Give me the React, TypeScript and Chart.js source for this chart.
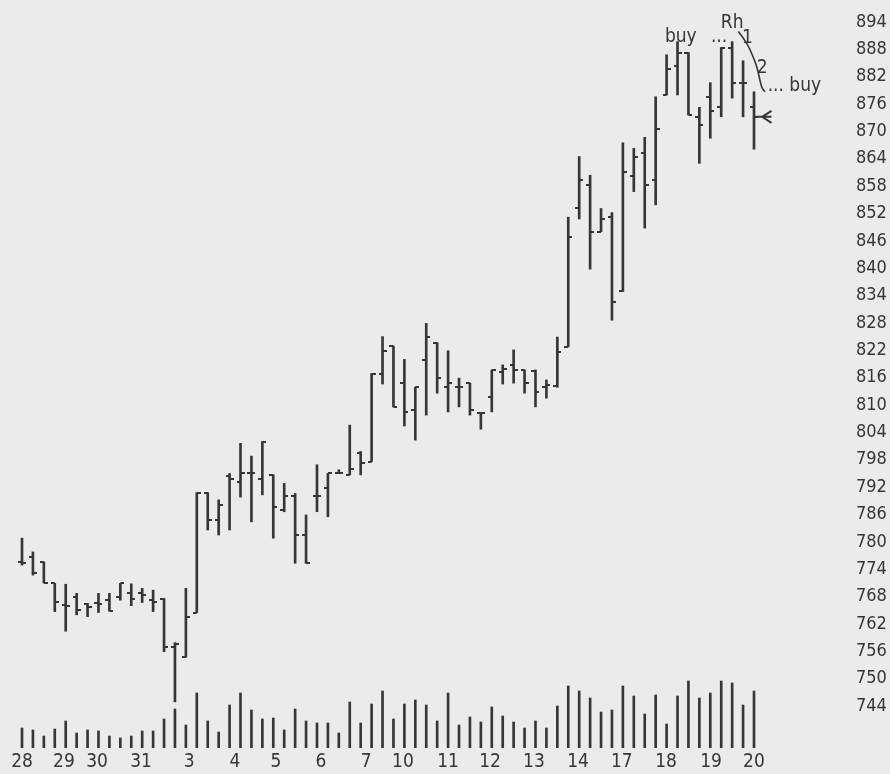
import React, { useEffect, useRef } from 'react';
import { Chart, registerables } from 'chart.js';

Chart.register(...registerables);

// ---- Data ----
const opens = [
  775.5, 776.6, 775.6, 770.9, 766.1, 768.0, 766.3, 766.6, 767.2, 768.0,
  768.8, 768.8, 767.2, 767.4, 757.0, 754.7, 764.5, 790.8, 784.8, 794.5,
  793.2, 795.0, 793.7, 794.7, 787.0, 790.0, 781.5, 790.0, 791.7, 795.0,
  794.7, 799.4, 797.6, 816.8, 822.9, 814.8, 808.9, 819.9, 823.7, 813.9,
  814.0, 814.8, 808.2, 811.7, 817.3, 818.8, 817.7, 817.5, 814.0, 814.2,
  822.8, 853.1, 858.3, 848.0, 851.3, 834.9, 860.2, 865.3, 859.4, 878.0,
  884.4, 887.3, 873.2, 877.5, 875.3, 888.2, 880.7, 875.3,
];
const highs = [
  780.8, 777.8, 775.6, 770.9, 770.7, 768.7, 766.5, 768.7, 768.7, 770.9,
  770.8, 769.8, 769.4, 767.6, 757.9, 769.8, 790.8, 790.8, 789.2, 795.0,
  801.6, 798.8, 802.0, 794.7, 792.8, 790.6, 785.9, 796.9, 795.0, 795.8,
  805.6, 799.8, 816.9, 825.0, 822.9, 820.0, 813.9, 827.9, 823.7, 821.9,
  815.9, 814.8, 808.2, 817.7, 818.8, 822.1, 817.7, 817.7, 815.5, 824.9,
  851.2, 864.5, 860.4, 853.1, 852.2, 867.5, 866.3, 868.7, 877.6, 886.8,
  889.7, 887.3, 875.3, 880.7, 888.4, 889.7, 885.5, 878.7,
];
const lows = [
  774.9, 772.7, 771.0, 764.7, 760.4, 764.0, 763.6, 764.5, 764.8, 767.2,
  766.0, 766.7, 764.7, 755.9, 744.9, 754.7, 764.5, 782.6, 781.5, 782.6,
  789.8, 784.4, 790.3, 780.8, 786.6, 775.3, 775.3, 786.6, 785.5, 795.0,
  794.7, 794.7, 797.6, 814.6, 809.6, 805.4, 802.3, 807.8, 812.6, 808.5,
  809.6, 807.8, 804.7, 808.5, 814.6, 814.8, 812.6, 809.6, 811.5, 813.9,
  822.8, 850.8, 839.8, 848.0, 828.6, 834.9, 856.8, 848.8, 853.9, 878.0,
  878.0, 873.6, 863.0, 868.5, 873.2, 877.3, 873.2, 866.1,
];
const closes = [
  775.3, 773.2, 771.0, 766.8, 765.9, 765.1, 765.8, 766.4, 764.9, 770.9,
  767.5, 768.3, 766.8, 757.0, 757.5, 763.6, 790.8, 784.8, 788.0, 793.8,
  795.0, 795.0, 802.0, 787.7, 790.0, 781.5, 775.3, 790.0, 795.0, 795.0,
  796.0, 797.2, 816.9, 821.9, 809.6, 808.5, 813.9, 824.9, 815.9, 814.8,
  814.0, 808.9, 808.2, 817.7, 817.8, 817.7, 814.8, 812.9, 814.4, 821.7,
  846.9, 859.4, 848.0, 850.9, 832.7, 861.2, 864.5, 858.3, 870.5, 883.6,
  887.3, 873.6, 871.4, 874.5, 888.4, 880.7, 880.7, 873.2,
];
const volumes = [
  20, 18, 12, 19, 27, 15, 18, 17, 12, 10,
  12, 17, 17, 29, 39, 23, 55, 27, 16, 43,
  55, 38, 29, 30, 18, 39, 27, 25, 25, 15,
  46, 25, 44, 57, 29, 44, 48, 43, 27, 55,
  23, 31, 26, 41, 32, 26, 20, 27, 20, 42,
  62, 57, 50, 36, 38, 62, 52, 34, 53, 24,
  52, 67, 50, 55, 67, 65, 43, 57,
];

// day labels and where they sit along the bar index axis
const dayTickPositions = [0, 3.84, 6.87, 10.9, 15.3, 19.5, 23.25, 27.37, 31.5, 34.87, 39, 42.84, 46.86, 50.9, 54.9, 58.95, 63.07, 67];
const dayTickLabels = ['28', '29', '30', '31', '3', '4', '5', '6', '7', '10', '11', '12', '13', '14', '17', '18', '19', '20'];

const priceTicks = [744, 750, 756, 762, 768, 774, 780, 786, 792, 798, 804, 810, 816, 822, 828, 834, 840, 846, 852, 858, 864, 870, 876, 882, 888, 894];

// annotations (bar index, price)
const noteTexts = ['buy', '...', 'Rh', '1', '2', '... buy'];
const noteX = [60.3, 63.8, 65.0, 66.4, 67.75, 70.7];
const noteY = [890.8, 890.6, 893.7, 890.5, 883.9, 880.0];

const curveX = [65.57, 66.2, 66.64, 67.25, 67.7, 68.0];
const curveY = [891.9, 889.8, 887.9, 884.2, 879.8, 878.7];

const arrowBar = 67;

const INK = '#363636';
const BG = '#ebebeb';
const FONT = "'Liberation Sans Narrow', 'DejaVu Sans Condensed', 'DejaVu Sans Mono', monospace";

export default function App() {
  const ref = useRef<HTMLCanvasElement | null>(null);

  useEffect(() => {
    const canvas = ref.current;
    if (!canvas) return;

    const makeTick = (side: 'left' | 'right') => {
      const c = document.createElement('canvas');
      c.width = 8;
      c.height = 2;
      const g = c.getContext('2d')!;
      g.fillStyle = INK;
      if (side === 'left') g.fillRect(0, 0, 4, 2);
      else g.fillRect(4, 0, 4, 2);
      return c;
    };
    const openTick = makeTick('left');
    const closeTick = makeTick('right');

    const bgPlugin = {
      id: 'bg',
      beforeDraw(chart: any) {
        const { ctx, width, height } = chart;
        ctx.save();
        ctx.fillStyle = BG;
        ctx.fillRect(0, 0, width, height);
        ctx.restore();
      },
    };

    const notePlugin = {
      id: 'notes',
      afterDatasetsDraw(chart: any) {
        const { ctx } = chart;
        const xs = chart.scales.x;
        const ys = chart.scales.y;
        ctx.save();
        ctx.fillStyle = INK;
        ctx.strokeStyle = INK;
        ctx.font = `19px ${FONT}`;
        ctx.textAlign = 'center';
        ctx.textBaseline = 'middle';
        noteTexts.forEach((t, i) => {
          ctx.fillText(t, xs.getPixelForValue(noteX[i]), ys.getPixelForValue(noteY[i]));
        });
        // arrow pointing at last close
        const bx = xs.getPixelForValue(arrowBar);
        const by = ys.getPixelForValue(closes[arrowBar]);
        const tip = xs.getPixelForValue(arrowBar + 0.75);
        const back = xs.getPixelForValue(arrowBar + 1.6);
        ctx.lineWidth = 2;
        ctx.beginPath();
        ctx.moveTo(bx, by);
        ctx.lineTo(back, by);
        ctx.moveTo(back, by - 6);
        ctx.lineTo(tip, by);
        ctx.lineTo(back, by + 6);
        ctx.stroke();
        ctx.restore();
      },
    };

    const zeroPad = (s: any) => {
      s.paddingTop = 0;
      s.paddingBottom = 0;
      s.paddingLeft = 0;
      s.paddingRight = 0;
    };

    const chart = new Chart(canvas, {
      type: 'bar',
      data: {
        datasets: [
          {
            type: 'bar',
            label: 'range',
            data: highs.map((h, i) => ({ x: i, y: [lows[i], h] })) as any,
            backgroundColor: INK,
            borderWidth: 0,
            barThickness: 2,
            grouped: false,
            yAxisID: 'y',
          } as any,
          {
            type: 'bar',
            label: 'volume',
            data: volumes.map((v, i) => ({ x: i, y: v })) as any,
            backgroundColor: INK,
            borderWidth: 0,
            barThickness: 2,
            grouped: false,
            yAxisID: 'vol',
          } as any,
          {
            type: 'line',
            label: 'open',
            data: opens.map((o, i) => ({ x: i, y: o })),
            showLine: false,
            pointStyle: openTick,
            pointRadius: 3,
            yAxisID: 'y',
          } as any,
          {
            type: 'line',
            label: 'close',
            data: closes.map((c, i) => ({ x: i, y: c })),
            showLine: false,
            pointStyle: closeTick,
            pointRadius: 3,
            yAxisID: 'y',
          } as any,
          {
            type: 'line',
            label: 'curve',
            data: curveX.map((x, i) => ({ x, y: curveY[i] })),
            borderColor: INK,
            borderWidth: 1.6,
            pointRadius: 0,
            tension: 0.4,
            fill: false,
            yAxisID: 'y',
          } as any,
        ],
      },
      options: {
        animation: false,
        responsive: false,
        maintainAspectRatio: false,
        layout: { padding: 0, autoPadding: false },
        plugins: {
          legend: { display: false },
          tooltip: { enabled: false },
        },
        scales: {
          x: {
            type: 'linear',
            offset: false,
            min: -2.014,
            max: 75.33,
            grid: { display: false, drawTicks: false },
            border: { display: false },
            afterBuildTicks: (s: any) => {
              s.ticks = dayTickPositions.map((v) => ({ value: v }));
            },
            afterFit: (s: any) => {
              s.height = 26;
              zeroPad(s);
            },
            ticks: {
              autoSkip: false,
              maxRotation: 0,
              minRotation: 0,
              padding: 3,
              color: INK,
              font: { family: FONT, size: 19 },
              callback: (_v: any, i: number) => dayTickLabels[i],
            },
          },
          y: {
            type: 'linear',
            position: 'right',
            min: 734.79,
            max: 898.82,
            grid: { display: false, drawTicks: false },
            border: { display: false },
            afterBuildTicks: (s: any) => {
              s.ticks = priceTicks.map((v) => ({ value: v }));
            },
            afterFit: (s: any) => {
              s.width = 45;
              zeroPad(s);
            },
            ticks: {
              autoSkip: false,
              padding: 11,
              color: INK,
              font: { family: FONT, size: 18 },
            },
          },
          vol: {
            type: 'linear',
            display: false,
            min: 0,
            max: 748,
          },
        },
      } as any,
      plugins: [bgPlugin, notePlugin],
    });

    return () => chart.destroy();
  }, []);

  return (
    <div style={{ position: 'absolute', left: 0, top: 0, width: 890, height: 774, background: BG }}>
      <canvas ref={ref} width={890} height={774} style={{ display: 'block', width: 890, height: 774 }} />
    </div>
  );
}
